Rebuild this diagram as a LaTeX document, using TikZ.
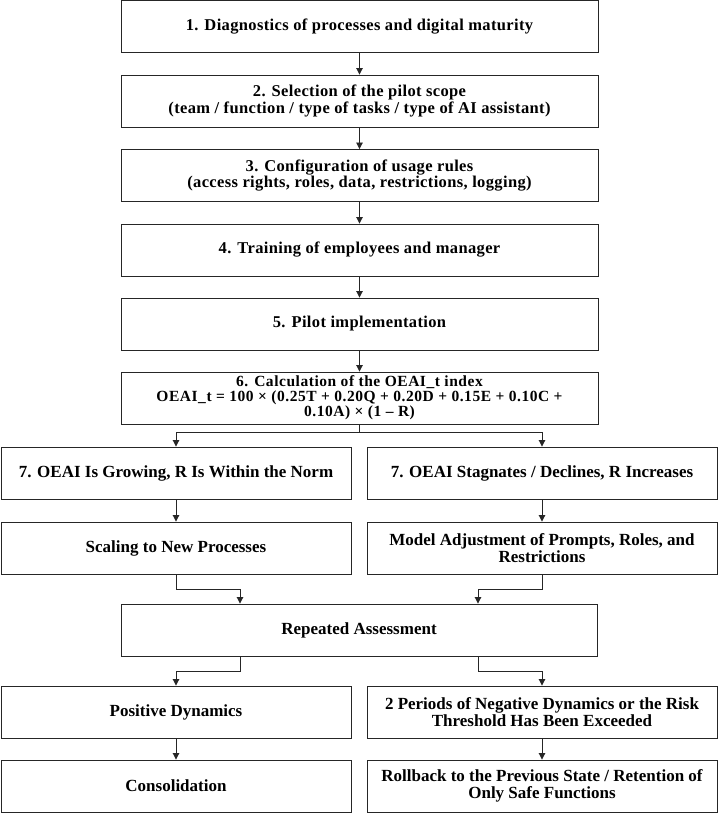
\documentclass[tikz,border=0pt]{standalone}
\usepackage{fontspec}
\setmainfont{Liberation Serif}
\newfontfamily\topfont[LetterSpace=2.2]{Liberation Serif}
\newfontfamily\formfont[LetterSpace=3.5]{Liberation Serif}
\usetikzlibrary{arrows.meta}
\begin{document}
\begin{tikzpicture}[x=1pt,y=-1pt,
  box/.style={draw=black!85, line width=0.9pt, align=center, inner sep=0pt},
  topbox/.style={box, minimum width=477pt, minimum height=52pt, font=\topfont\bfseries\fontsize{16.5}{16.5}\selectfont},
  sidebox/.style={box, minimum width=350pt, minimum height=52pt, font=\bfseries\fontsize{17}{17.5}\selectfont},
  midbox/.style={box, minimum width=476pt, minimum height=52pt, font=\bfseries\fontsize{17}{17}\selectfont},
  conn/.style={draw=black!85, line width=0.9pt},
  arr/.style={conn, -{Triangle[length=6.5pt,width=6.5pt]}}
]
\useasboundingbox (0,0) rectangle (718,813);
\node[topbox] (b1) at (359.5,26.5) {1. Diagnostics of processes and digital maturity};
\node[topbox] (b2) at (359.5,101) {2. Selection of the pilot scope\\(team / function / type of tasks / type of AI assistant)};
\node[topbox] (b3) at (359.5,175.5) {3. Configuration of usage rules\\(access rights, roles, data, restrictions, logging)};
\node[topbox] (b4) at (359.5,250) {4. Training of employees and manager};
\node[topbox] (b5) at (359.5,324) {5. Pilot implementation};
\node[topbox, font=\formfont\bfseries\fontsize{15.5}{15}\selectfont] (b6) at (359.5,398) {6. Calculation of the OEAI\_t index\\OEAI\_t = 100 × (0.25T + 0.20Q + 0.20D + 0.15E + 0.10C +\\0.10A) × (1 – R)};
\node[sidebox] (l7) at (176,473) {7. OEAI Is Growing, R Is Within the Norm};
\node[sidebox] (r7) at (542,473) {7. OEAI Stagnates / Declines, R Increases};
\node[sidebox] (l8) at (176,548) {Scaling to New Processes};
\node[sidebox] (r8) at (542,548) {Model Adjustment of Prompts, Roles, and\\Restrictions};
\node[midbox] (ra) at (359,630) {Repeated Assessment};
\node[sidebox] (l10) at (176,712) {Positive Dynamics};
\node[sidebox] (r10) at (542,712) {2 Periods of Negative Dynamics or the Risk\\Threshold Has Been Exceeded};
\node[sidebox] (l11) at (176,786) {Consolidation};
\node[sidebox] (r11) at (542,786) {Rollback to the Previous State / Retention of\\Only Safe Functions};
\draw[arr] (b1) -- (b2);
\draw[arr] (b2) -- (b3);
\draw[arr] (b3) -- (b4);
\draw[arr] (b4) -- (b5);
\draw[arr] (b5) -- (b6);
\coordinate (s6) at (359.5,432);
\draw[conn] (b6.south) -- (s6);
\draw[arr] (s6) -| (l7.north);
\draw[arr] (s6) -| (r7.north);
\draw[arr] (l7) -- (l8);
\draw[arr] (r7) -- (r8);
\coordinate (m1) at (240,589);
\coordinate (m2) at (478,589);
\draw[arr] (l8.south) |- (m1) -- (m1 |- ra.north);
\draw[arr] (r8.south) |- (m2) -- (m2 |- ra.north);
\coordinate (d1) at (240,671);
\coordinate (d2) at (478,671);
\draw[arr] (d1 |- ra.south) -- (d1) -| (l10.north);
\draw[arr] (d2 |- ra.south) -- (d2) -| (r10.north);
\draw[arr] (l10) -- (l11);
\draw[arr] (r10) -- (r11);
\end{tikzpicture}
\end{document}
